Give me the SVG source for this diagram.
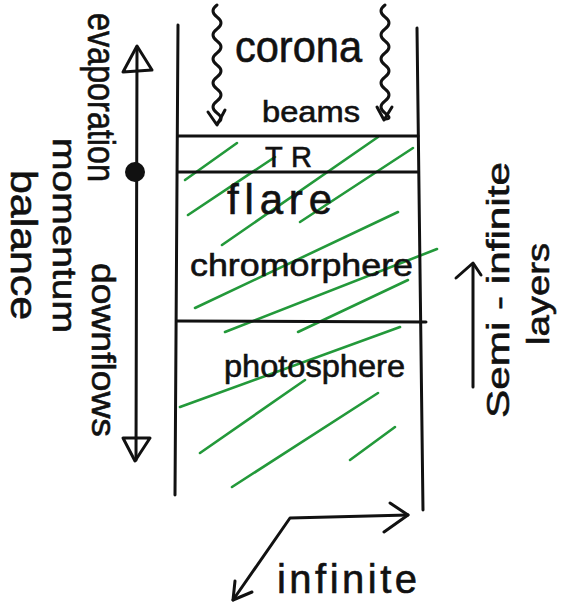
<svg xmlns="http://www.w3.org/2000/svg" width="566" height="609" viewBox="0 0 566 609">
<style>
.ln{stroke:#111;stroke-width:3;fill:none;stroke-linecap:round;stroke-linejoin:round}
.hl{stroke:#23993a;stroke-width:2.6;fill:none;stroke-linecap:round}
.t{font-family:"Liberation Sans","DejaVu Sans",sans-serif;fill:#111;stroke:#111;stroke-width:0.6}
</style>
<rect width="566" height="609" fill="#fff"/>
<g id="hatch">
<line class="hl" x1="185" y1="180" x2="237" y2="143"/>
<line class="hl" x1="188" y1="215" x2="275" y2="157"/>
<line class="hl" x1="222" y1="245" x2="378" y2="137"/>
<line class="hl" x1="300" y1="222" x2="413" y2="148"/>
<line class="hl" x1="195" y1="308" x2="398" y2="212"/>
<line class="hl" x1="225" y1="332" x2="437" y2="249"/>
<line class="hl" x1="298" y1="332" x2="408" y2="280"/>
<line class="hl" x1="180" y1="407" x2="400" y2="327"/>
<line class="hl" x1="200" y1="453" x2="305" y2="380"/>
<line class="hl" x1="232" y1="487" x2="378" y2="393"/>
<line class="hl" x1="350" y1="460" x2="395" y2="427"/>
</g>
<g id="column">
<line class="ln" x1="178" y1="25" x2="175" y2="495"/>
<line class="ln" x1="417" y1="28" x2="423" y2="510"/>
<line class="ln" x1="178" y1="136" x2="418" y2="136"/>
<line class="ln" x1="178" y1="172" x2="418" y2="172"/>
<line class="ln" x1="177" y1="321" x2="426" y2="322"/>
</g>
<g id="corona">
<text class="t" x="235" y="62" font-size="44" textLength="127" lengthAdjust="spacingAndGlyphs">corona</text>
<text class="t" x="262" y="122" font-size="30" textLength="98" lengthAdjust="spacingAndGlyphs">beams</text>
</g>
<g id="tr"><text class="t" x="265" y="167" font-size="29" textLength="47" lengthAdjust="spacing">TR</text></g>
<g id="flare"><text class="t" x="227" y="214" font-size="42" textLength="105" lengthAdjust="spacing">flare</text></g>
<g id="chromosphere"><text class="t" x="190" y="276" font-size="32" textLength="223" lengthAdjust="spacingAndGlyphs">chromorphere</text></g>
<g id="photosphere"><text class="t" x="224" y="377" font-size="32" textLength="181" lengthAdjust="spacingAndGlyphs">photosphere</text></g>
<g id="connectors">
<path class="ln" d="M217 5 q-8 6 0 12 t0 12 t0 12 t0 12 t0 12 t0 12 t0 12 t0 12 t0 12 t0 10"/>
<polyline class="ln" points="208,112 217,125 225,110"/>
<path class="ln" d="M385 5 q-8 6 0 12 t0 12 t0 12 t0 12 t0 12 t0 12 t0 12 t0 12 t0 12 t0 6"/>
<polyline class="ln" points="377,107 384,120 392,107"/>
<line class="ln" x1="137" y1="47" x2="136" y2="460"/>
<polygon class="ln" points="137,46 123,72 152,70"/>
<polygon class="ln" points="123,438 150,438 135,461"/>
<circle cx="135" cy="172" r="10" fill="#111"/>
<line class="ln" x1="473" y1="265" x2="473" y2="387"/>
<polyline class="ln" points="456,278 473,263 481,275"/>
<polyline class="ln" points="233,600 290,518 408,515"/>
<polyline class="ln" points="390,503 408,515 384,532"/>
<polyline class="ln" points="235,581 233,600 252,592"/>
</g>
<g id="left-labels">
<text class="t" transform="translate(88,13) rotate(90)" font-size="38" textLength="169" lengthAdjust="spacingAndGlyphs">evaporation</text>
<text class="t" transform="translate(53,138) rotate(90)" font-size="34" textLength="195" lengthAdjust="spacingAndGlyphs">momentum</text>
<text class="t" transform="translate(11,170) rotate(90)" font-size="36" textLength="150" lengthAdjust="spacingAndGlyphs">balance</text>
<text class="t" transform="translate(92,263) rotate(90)" font-size="34" textLength="174" lengthAdjust="spacingAndGlyphs">downflows</text>
</g>
<g id="right-labels">
<text class="t" transform="translate(509,418) rotate(-90)" font-size="32" textLength="256" lengthAdjust="spacingAndGlyphs">Semi - infinite</text>
<text class="t" transform="translate(549,345) rotate(-90)" font-size="32" textLength="102" lengthAdjust="spacingAndGlyphs">layers</text>
</g>
<g id="infinite"><text class="t" x="277" y="593" font-size="40" textLength="140" lengthAdjust="spacing">infinite</text></g>
</svg>
